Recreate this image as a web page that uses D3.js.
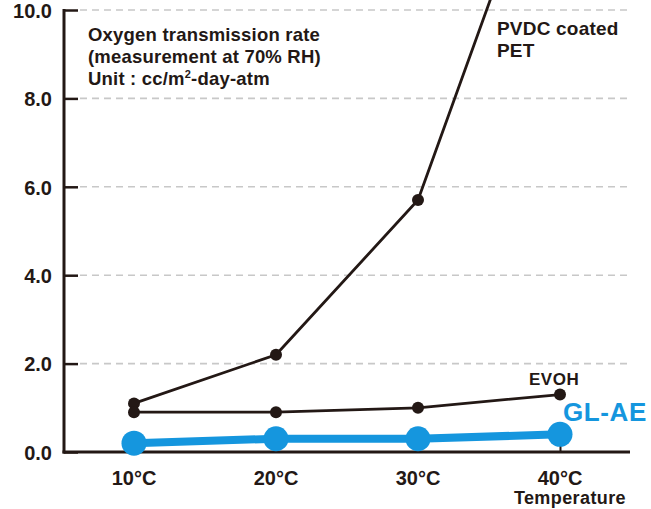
<!DOCTYPE html>
<html>
<head>
<meta charset="utf-8">
<script src="https://cdn.jsdelivr.net/npm/d3@7"></script>
<style>
  body { margin: 0; background: #fff; }
  svg text { font-family: "Liberation Sans", Arial, sans-serif; font-weight: bold; fill: #231815; }
</style>
</head>
<body>
<div id="chart"></div>
<script>
const temperatures = ['10°C', '20°C', '30°C', '40°C'];
const pvdcValues = [1.1, 2.2, 5.7, 14.6];
const evohValues = [0.9, 0.9, 1.0, 1.3];
const glaeValues = [0.2, 0.3, 0.3, 0.4];
const yTicks = [0, 2, 4, 6, 8, 10];

const width = 651, height = 509;
const margin = { top: 10, right: 21, bottom: 57, left: 64 };
const innerW = width - margin.left - margin.right,
      innerH = height - margin.top - margin.bottom;
const dark = '#231815', blue = '#1596de';

const svg = d3.select('#chart').append('svg')
    .attr('width', width)
    .attr('height', height);

const g = svg.append('g').attr('transform', `translate(${margin.left},${margin.top})`);

const x = d3.scalePoint().domain(temperatures).range([70, 496]);
const y = d3.scaleLinear().domain([0, 10]).range([innerH, 0]);

// dashed grid
g.selectAll('.grid')
    .data(yTicks.filter(d => d > 0))
    .enter().append('line')
    .attr('x1', 16).attr('x2', innerW)
    .attr('y1', d => y(d)).attr('y2', d => y(d))
    .attr('stroke', '#c8c8c8')
    .attr('stroke-width', 1.6)
    .attr('stroke-dasharray', '7,5');

// y axis
const yAxis = g.append('g')
    .call(d3.axisRight(y).tickValues(yTicks).tickSize(14).tickFormat(d3.format('.1f')));
yAxis.select('.domain').remove();
yAxis.selectAll('.tick line').attr('stroke', dark).attr('stroke-width', 2.5);
yAxis.selectAll('.tick text')
    .attr('x', -12).attr('dy', '0.36em')
    .attr('text-anchor', 'end')
    .style('font-size', '20px');
g.append('line')
    .attr('x1', 0).attr('x2', 0)
    .attr('y1', y(10) - 1).attr('y2', innerH + 1.5)
    .attr('stroke', dark).attr('stroke-width', 3);

// x axis
const xAxis = g.append('g')
    .attr('transform', `translate(0,${innerH})`)
    .call(d3.axisTop(x).tickSize(8).tickFormat(''));
xAxis.select('.domain').remove();
xAxis.selectAll('.tick line').attr('stroke', dark).attr('stroke-width', 2);
g.append('line')
    .attr('x1', -1.5).attr('x2', innerW)
    .attr('y1', innerH).attr('y2', innerH)
    .attr('stroke', dark).attr('stroke-width', 3);
g.selectAll('.xlabel')
    .data(temperatures)
    .enter().append('text')
    .attr('x', d => x(d))
    .attr('y', innerH + 33)
    .attr('text-anchor', 'middle')
    .style('font-size', '20px')
    .text(d => d);
g.append('text')
    .attr('x', innerW - 4).attr('y', innerH + 52)
    .attr('text-anchor', 'end')
    .style('font-size', '18px')
    .style('letter-spacing', '0.4px')
    .text('Temperature');

// lines
const line = vals => d3.line()
    .x((d, i) => x(temperatures[i]))
    .y(d => y(d))(vals);

g.append('path').attr('d', line(pvdcValues))
    .attr('fill', 'none').attr('stroke', dark).attr('stroke-width', 2.8);
g.selectAll('.pvdc').data(pvdcValues.slice(0, 3)).enter().append('circle')
    .attr('cx', (d, i) => x(temperatures[i])).attr('cy', d => y(d))
    .attr('r', 6).attr('fill', dark);

g.append('path').attr('d', line(evohValues))
    .attr('fill', 'none').attr('stroke', dark).attr('stroke-width', 2.8);
g.selectAll('.evoh').data(evohValues).enter().append('circle')
    .attr('cx', (d, i) => x(temperatures[i])).attr('cy', d => y(d))
    .attr('r', 6).attr('fill', dark);

g.append('path').attr('d', line(glaeValues))
    .attr('fill', 'none').attr('stroke', blue).attr('stroke-width', 8);
g.selectAll('.glae').data(glaeValues).enter().append('circle')
    .attr('cx', (d, i) => x(temperatures[i])).attr('cy', d => y(d))
    .attr('r', 12.5).attr('fill', blue);

// labels
const note = g.append('text').style('font-size', '18.5px').style('letter-spacing', '0.2px');
['Oxygen transmission rate', '(measurement at 70% RH)'].forEach((t, i) => {
    note.append('tspan').attr('x', 24).attr('y', 31 + i * 22).text(t);
});
const unit = note.append('tspan').attr('x', 24).attr('y', 75);
unit.append('tspan').text('Unit : cc/m');
unit.append('tspan').attr('dy', -7).style('font-size', '11px').text('2');
unit.append('tspan').attr('dy', 7).text('-day-atm');

const pvdcLabel = g.append('text').style('font-size', '19px').style('letter-spacing', '0.2px');
pvdcLabel.append('tspan').attr('x', 433).attr('y', 25).text('PVDC coated');
pvdcLabel.append('tspan').attr('x', 433).attr('y', 47).text('PET');

g.append('text').attr('x', 465).attr('y', 375)
    .style('font-size', '17px').style('letter-spacing', '0.5px').text('EVOH');
g.append('text').attr('x', 499).attr('y', 411)
    .style('font-size', '26px').style('letter-spacing', '0.6px')
    .style('fill', blue).text('GL-AE');
</script>
</body>
</html>
